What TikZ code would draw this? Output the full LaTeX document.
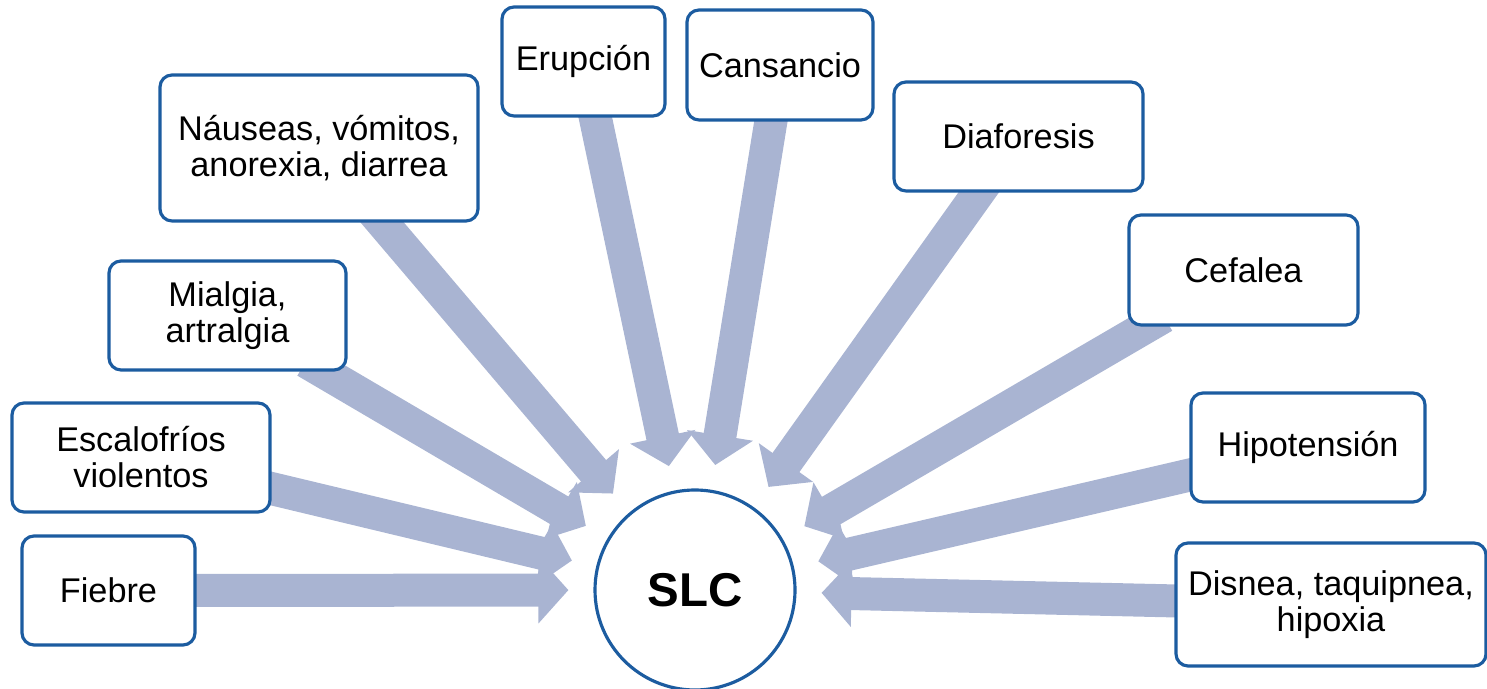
\documentclass[tikz,border=0pt]{standalone}
\usepackage{fontspec}
\setmainfont{Liberation Sans}
\usetikzlibrary{arrows.meta,backgrounds}
\definecolor{boxblue}{RGB}{28,92,160}
\definecolor{arrowgray}{RGB}{169,180,210}
\tikzset{
  symptom/.style={draw=boxblue, line width=1.8pt, rounded corners=0.24cm,
    fill=white, align=center, inner sep=0pt,
    font=\fontsize{19.5}{20.5}\selectfont},
  fat/.style={draw=arrowgray, line width=0.66cm,
    -{Triangle[width=1.3cm,length=0.6cm]},
    shorten >=0.5cm, shorten <=-0.4cm},
}

\begin{document}
\begin{tikzpicture}
  \useasboundingbox (0,0) rectangle (29.74,13.78);
  \node (slc) [circle, draw=boxblue, line width=1.8pt, fill=white,
    minimum size=4cm, font=\fontsize{27}{30}\selectfont\bfseries] at (13.9,1.98) {SLC};
  \node (fie) [symptom, minimum width=3.46cm, minimum height=2.18cm] at (2.17,1.97) {Fiebre};
  \node (esc) [symptom, minimum width=5.16cm, minimum height=2.18cm] at (2.82,4.63) {Escalofríos\\violentos};
  \node (mia) [symptom, minimum width=4.74cm, minimum height=2.18cm] at (4.55,7.47) {Mialgia,\\artralgia};
  \node (nau) [symptom, minimum width=6.36cm, minimum height=2.92cm] at (6.38,10.82) {Náuseas, vómitos,\\anorexia, diarrea};
  \node (eru) [symptom, minimum width=3.26cm, minimum height=2.18cm] at (11.67,12.55) {Erupción};
  \node (can) [symptom, minimum width=3.72cm, minimum height=2.2cm] at (15.6,12.48) {Cansancio};
  \node (dia) [symptom, minimum width=4.98cm, minimum height=2.18cm] at (20.37,11.05) {Diaforesis};
  \node (cef) [symptom, minimum width=4.58cm, minimum height=2.2cm] at (24.87,8.38) {Cefalea};
  \node (hip) [symptom, minimum width=4.68cm, minimum height=2.18cm] at (26.16,4.83) {Hipotensión};
  \node (dis) [symptom, minimum width=6.2cm, minimum height=2.46cm] at (26.62,1.69) {Disnea, taquipnea,\\hipoxia};
  \begin{scope}[on background layer]
    \draw[fat] (fie) -- (slc);
    \draw[fat] (esc) -- (slc);
    \draw[fat] (mia) -- (slc);
    \draw[fat] (nau) -- (slc);
    \draw[fat] (eru) -- (slc);
    \draw[fat] (can) -- (slc);
    \draw[fat] (dia) -- (slc);
    \draw[fat] (cef) -- (slc);
    \draw[fat] (hip) -- (slc);
    \draw[fat] (dis) -- (slc);
  \end{scope}
\end{tikzpicture}
\end{document}
